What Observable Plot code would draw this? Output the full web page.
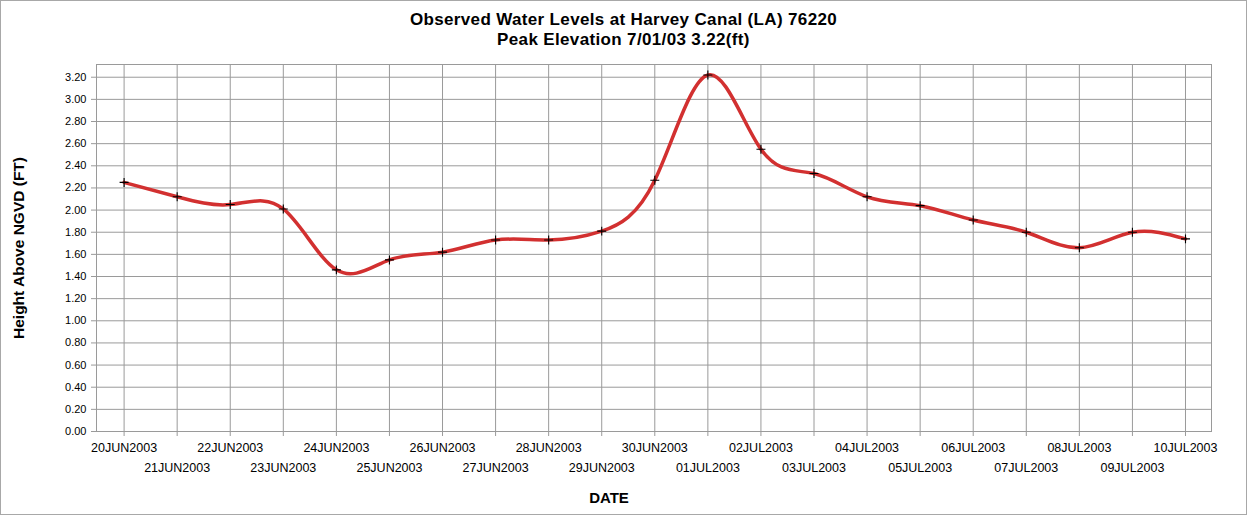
<!DOCTYPE html>
<html><head><meta charset="utf-8">
<script src="https://cdn.jsdelivr.net/npm/d3@7"></script>
<script src="https://cdn.jsdelivr.net/npm/@observablehq/plot@0.6"></script>
<style>
body{margin:0;background:#fff;}
#wrap{position:relative;width:1247px;height:515px;box-sizing:border-box;border:1px solid #a8a8a8;overflow:hidden;font-family:"Liberation Sans",Arial,sans-serif;background:#fff;}
#title{height:51px;text-align:center;font-weight:bold;font-size:17px;letter-spacing:0.35px;line-height:20px;padding-top:9px;box-sizing:border-box;color:#000;}
#chart svg{display:block;}
</style></head><body>
<div id="wrap"><div id="title"><div>Observed Water Levels at Harvey Canal (LA) 76220</div><div>Peak Elevation 7/01/03 3.22(ft)</div></div><div id="chart"></div></div>
<script>
const dates = ["2003-06-20","2003-06-21","2003-06-22","2003-06-23","2003-06-24","2003-06-25","2003-06-26","2003-06-27","2003-06-28","2003-06-29","2003-06-30","2003-07-01","2003-07-02","2003-07-03","2003-07-04","2003-07-05","2003-07-06","2003-07-07","2003-07-08","2003-07-09","2003-07-10"];
const levels = [2.25,2.12,2.05,2.01,1.46,1.55,1.62,1.73,1.73,1.81,2.27,3.22,2.55,2.33,2.12,2.04,1.91,1.80,1.66,1.80,1.74];
const tickLabels = ["20JUN2003","21JUN2003","22JUN2003","23JUN2003","24JUN2003","25JUN2003","26JUN2003","27JUN2003","28JUN2003","29JUN2003","30JUN2003","01JUL2003","02JUL2003","03JUL2003","04JUL2003","05JUL2003","06JUL2003","07JUL2003","08JUL2003","09JUL2003","10JUL2003"];
const yTicks = [0,0.2,0.4,0.6,0.8,1.0,1.2,1.4,1.6,1.8,2.0,2.2,2.4,2.6,2.8,3.0,3.2];
const yLabel = "Height Above NGVD (FT)";
const xLabel = "DATE";

const parse = d3.utcParse("%Y-%m-%d");
const data = dates.map((d,i)=>({date: parse(d), level: levels[i]}));
const day = 864e5;
const x0 = data[0].date, x1 = data[data.length-1].date;
const evenTicks = data.filter((d,i)=>i%2===0).map(d=>d.date);
const oddTicks = data.filter((d,i)=>i%2===1).map(d=>d.date);
const fmt = d => tickLabels[Math.round((d - x0)/day)];
const gridC = "#9a9a9a";

const chart = Plot.plot({
  width: 1245, height: 462,
  marginTop: 12, marginBottom: 83, marginLeft: 95, marginRight: 35,
  style: {fontFamily: "Liberation Sans, Arial, sans-serif", fontSize: "12px", color: "#000", background: "#fff", overflow: "visible"},
  x: {type: "utc", domain: [new Date(+x0 - 0.52*day), new Date(+x1 + 0.49*day)]},
  y: {domain: [0, 3.315]},
  marks: [
    Plot.gridX(data.map(d=>d.date), {stroke: gridC, strokeOpacity: 1}),
    Plot.gridY(yTicks, {stroke: gridC, strokeOpacity: 1}),
    Plot.frame({stroke: gridC}),
    Plot.axisY(yTicks, {tickFormat: d=>d.toFixed(2), tickSize: 5, tickPadding: 5, stroke: gridC, fill: "#000", fontSize: 11, label: null}),
    Plot.axisX(evenTicks, {tickFormat: fmt, tickSize: 5, tickPadding: 7, stroke: gridC, fill: "#000", fontSize: 12.5, label: null}),
    Plot.axisX(oddTicks, {tickFormat: fmt, tickSize: 5, tickPadding: 27, stroke: gridC, fill: "#000", fontSize: 12.5, label: null}),
    Plot.line(data, {x:"date", y:"level", curve:"natural", stroke:"#d23030", strokeWidth:3.5}),
    Plot.dot(data, {x:"date", y:"level", symbol:"plus", r:3, stroke:"#000", strokeWidth:1.1}),
    Plot.text([yLabel], {text: d=>d, frameAnchor:"left", textAnchor:"middle", lineAnchor:"middle", rotate:-90, dx:-77, fontWeight:"bold", fontSize:15.5, fill:"#000"}),
    Plot.text([xLabel], {text: d=>d, frameAnchor:"bottom", textAnchor:"middle", lineAnchor:"middle", dy:67, dx:-45, fontWeight:"bold", fontSize:15, fill:"#000"})
  ]
});
document.getElementById("chart").appendChild(chart);
</script>
</body></html>
